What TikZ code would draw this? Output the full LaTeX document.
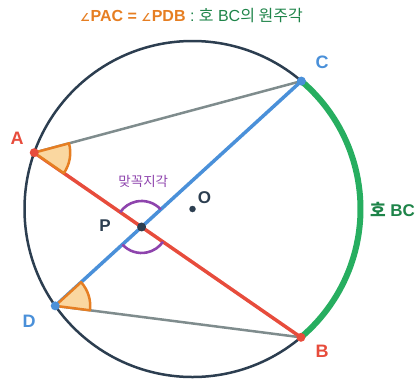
\documentclass[tikz,border=0pt]{standalone}
\usepackage{fontspec}
\setmainfont{Liberation Sans}
\newfontfamily\kr{Noto Sans CJK KR}
\newfontfamily\dejavu{DejaVu Sans}
\usetikzlibrary{calc}
\definecolor{navy}{HTML}{2C3E50}
\definecolor{rd}{HTML}{E74C3C}
\definecolor{bl}{HTML}{4A90D9}
\definecolor{gy}{HTML}{7F8C8D}
\definecolor{og}{HTML}{E67E22}
\definecolor{ogfill}{HTML}{FAD7A0}
\definecolor{pu}{HTML}{8E44AD}
\definecolor{gn}{HTML}{27AE60}
\definecolor{dgn}{HTML}{1E8449}
\newcommand{\angsym}{{\dejavu\fontsize{11}{11}\selectfont ∠}\kern0.5pt}
\begin{document}
\begin{tikzpicture}[x=1pt,y=1pt,
  dot/.style={circle,inner sep=0pt,minimum size=#1},
  ptlbl/.style={font=\fontsize{18}{18}\selectfont\bfseries},
  wedge/.style={draw=og,fill=ogfill,line width=2.5pt,line join=round},
  vert/.style={pu,line width=2.6pt}]
\useasboundingbox (0,0) rectangle (417,-381);
\coordinate (O) at (192.5,-209);
\coordinate (A) at ([shift={(160.4:168pt)}]O);
\coordinate (C) at ([shift={(49.6:168pt)}]O);
\coordinate (B) at ([shift={(-49.8:168pt)}]O);
\coordinate (D) at ([shift={(215.2:168pt)}]O);
\coordinate (P) at (intersection of A--B and C--D);
% circle and arc BC
\draw[navy,line width=2.5pt] (O) circle[radius=168pt];
\draw[gn,line width=6pt] (B) arc[start angle=-49.8,end angle=49.6,radius=168pt];
% chords
\draw[gy,line width=2.5pt] (A) -- (C);
\draw[gy,line width=2.5pt] (D) -- (B);
\draw[bl,line width=3.5pt] (C) -- (D);
\draw[rd,line width=3.5pt] (A) -- (B);
% inscribed angles
\draw[wedge] let \p1=($(B)-(A)$), \p2=($(C)-(A)$), \n1={atan2(\y1,\x1)}, \n2={atan2(\y2,\x2)} in
  (A) -- ++(\n1:36pt) arc[start angle=\n1,end angle=\n2,radius=36pt] -- cycle;
\draw[wedge] let \p1=($(B)-(D)$), \p2=($(C)-(D)$), \n1={atan2(\y1,\x1)}, \n2={atan2(\y2,\x2)} in
  (D) -- ++(\n1:35pt) arc[start angle=\n1,end angle=\n2,radius=35pt] -- cycle;
% vertical angles
\draw[vert] let \p1=($(C)-(P)$), \p2=($(A)-(P)$), \n1={atan2(\y1,\x1)}, \n2={atan2(\y2,\x2)} in
  ([shift={(\n1:26pt)}]P) arc[start angle=\n1,end angle=\n2,radius=26pt];
\draw[vert] let \p1=($(D)-(P)$), \p2=($(B)-(P)$), \n1={atan2(\y1,\x1)}, \n2={atan2(\y2,\x2)} in
  ([shift={(\n1:26pt)}]P) arc[start angle=\n1,end angle=\n2,radius=26pt];
% dots
\node[dot=9pt,fill=rd] (dA) at (A) {};
\node[dot=9pt,fill=rd] (dB) at (B) {};
\node[dot=9pt,fill=bl] (dC) at (C) {};
\node[dot=9pt,fill=bl] (dD) at (D) {};
\node[dot=9pt,fill=navy] (dP) at (P) {};
\node[dot=6.5pt,fill=navy] (dO) at (O) {};
% labels
\node[ptlbl,text=rd] (lA) at (17,-138) {A};
\node[ptlbl,text=bl] (lC) at (322,-62) {C};
\node[ptlbl,text=rd] (lB) at (322,-351) {B};
\node[ptlbl,text=bl] (lD) at (29,-321) {D};
\node[font=\fontsize{17}{17}\selectfont\bfseries,text=navy] (lP) at (105,-226) {P};
\node[font=\fontsize{17}{17}\selectfont\bfseries,text=navy] (lO) at (204.5,-197.5) {O};
\node[font=\fontsize{13.5}{13.5}\selectfont\kr,text=pu] (lv) at (143.3,-181) {맞꼭지각};
\node[font=\fontsize{17}{17}\selectfont\bfseries,text=dgn] (larc) at (392.5,-209.5) {{\kr 호} BC};
\node[font=\fontsize{16}{16}\selectfont,anchor=base] (title) at (191.5,-21)
  {{\color{og}\bfseries\angsym PAC = \angsym PDB} {\color{dgn}: {\kr 호} BC{\kr 의 원주각}}};
\end{tikzpicture}
\end{document}
